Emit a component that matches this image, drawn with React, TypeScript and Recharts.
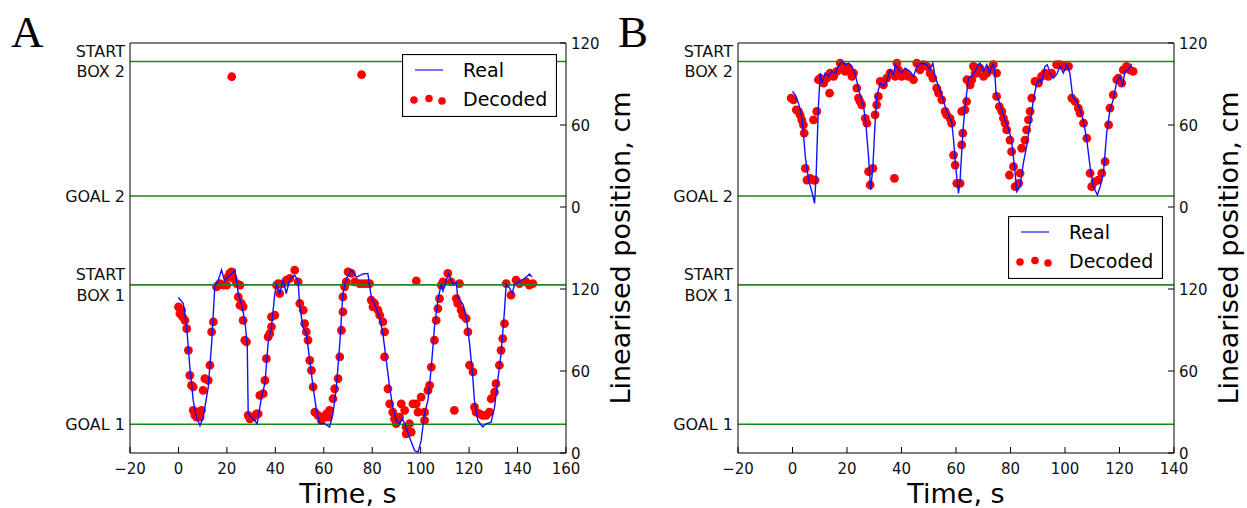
import React from "react";
import { ComposedChart, Line, Scatter, XAxis, YAxis, ReferenceLine, Legend } from "recharts";

const FONT = "'DejaVu Sans', sans-serif";

// y is one stacked scale: lower arm 0-120 cm, upper arm drawn 180 units higher
const landmarkPos = [21, 123, 188, 286.5];
const landmarkNames = [["GOAL 1"], ["START", "BOX 1"], ["GOAL 2"], ["START", "BOX 2"]];
const posTicks = [0, 60, 120, 180, 240, 300];
const posTickLabels = ["0", "60", "120", "0", "60", "120"];
const timeTicksA = [-20, 0, 20, 40, 60, 80, 100, 120, 140, 160];
const timeTicksB = [-20, 0, 20, 40, 60, 80, 100, 120, 140];

// panel A
const realATime = [0, 2, 3.4, 4.7, 6.1, 7.5, 8.9, 10.2, 12.3, 13.7, 15, 16.4, 17.8, 19, 20.5, 21.9, 23.3, 24, 24.7, 26, 27.4, 28.4, 28.8, 30.2, 31.5, 32.5, 34.3, 35.7, 37, 38.4, 39.8, 40.5, 41.8, 43.2, 44.5, 46, 48, 49.4, 50, 51.4, 52.8, 54.2, 55.6, 57, 58.3, 60.4, 62.4, 63.8, 65.2, 66.6, 67.9, 69.3, 71.4, 73.5, 76.2, 78.2, 79.6, 81, 83, 84.4, 85.8, 87.2, 88.5, 89.9, 91.3, 92.4, 93.4, 95.4, 97.5, 98.9, 100.2, 101.6, 103, 104.4, 105.7, 107.1, 108.5, 109.2, 110.5, 111.6, 113.3, 114.7, 115.3, 117.4, 118.8, 120.2, 121.5, 122.2, 123.6, 125.6, 127, 129.1, 130.5, 131.8, 133.2, 134.6, 135.3, 136.6, 137.8, 138.7, 140.8, 142.8, 144.9, 146];
const realAPos = [113.8, 109.4, 92, 63, 38.5, 26, 20, 26, 48, 80, 121.5, 126.5, 134, 126, 129, 131, 134, 126, 116.7, 109, 97, 80, 28.7, 26, 23.8, 21.4, 41, 50.7, 80, 92, 116.7, 123, 116.7, 126.5, 116.7, 127.5, 130, 126, 109, 92, 87.4, 67.8, 48, 31, 21.4, 21.4, 19, 28.7, 48, 80, 116.7, 127.5, 134, 128.7, 131, 131.4, 114, 109, 99.6, 87.4, 67.8, 48, 33.6, 23.8, 21.4, 25, 21.4, 11.6, 1.8, 0.5, 9, 28.7, 38.5, 63, 92, 111.8, 123.5, 118.6, 126, 131, 123.5, 124.7, 114, 109, 99.6, 80, 55.6, 38.5, 23.8, 19, 21.4, 22.6, 33.6, 53, 72.7, 104, 123.5, 121, 116.7, 123, 125.7, 127.5, 131, 128.7];
const decodedATime = [0, 1.3, 0.6, 1.7, 2.7, 3.4, 4.1, 4.7, 5.4, 6.1, 6.1, 6.8, 8.2, 9.5, 8.9, 7.5, 10.2, 10.9, 12.3, 13, 13.7, 14.4, 15.7, 16.4, 17.1, 18.5, 19.9, 21.2, 21.9, 20.5, 22.6, 24, 25.4, 24.7, 25.4, 26, 26.7, 26.7, 27.4, 28.1, 28.8, 29.5, 30.8, 32.2, 32.9, 33.6, 35, 35.7, 36.3, 37, 37.7, 38.4, 38.4, 39.8, 40.5, 41.2, 41.8, 43.2, 44.6, 46, 48, 49.4, 50.1, 51.5, 52.1, 52.8, 53.5, 54.2, 54.9, 55.6, 56.3, 57.6, 59, 59.7, 61.1, 61.8, 62.4, 63.8, 64.5, 65.9, 66.6, 67.3, 67.9, 67.9, 68.6, 69.3, 70, 71.4, 72.8, 74.8, 76.2, 77.6, 78.9, 79.6, 81, 80.3, 82.4, 83.1, 84.4, 85.1, 85.1, 86.5, 87.2, 88.5, 89.2, 89.9, 91.3, 92, 93.4, 94, 95.4, 94, 96.1, 96.8, 98.2, 98.9, 100.2, 101.6, 101.6, 103, 103.7, 104.4, 105.7, 106.4, 107.1, 107.8, 108.5, 109.2, 111.2, 112.6, 113.9, 98.2, 114.7, 116, 115.3, 116.7, 117.4, 118.8, 119.5, 120.2, 121.6, 122.2, 122.9, 124.3, 125.6, 127, 128.4, 129.1, 130.5, 131.1, 132.5, 133.2, 133.9, 134.6, 135.3, 137.3, 139.4, 140.8, 143.5, 144.9, 146.3, 22, 75.6];
const decodedAPos = [106.9, 104.5, 102, 99.6, 97.1, 91, 75.1, 56.8, 49.5, 48.3, 31.2, 27.5, 29.9, 31.2, 26.3, 26.3, 45.8, 54.4, 53.2, 64.2, 88.6, 95.9, 121.6, 122.8, 124, 122.8, 122.8, 131.4, 132.6, 128.9, 127.7, 124, 122.8, 114.2, 108.1, 109.4, 106.9, 97.1, 82.5, 81.3, 27.5, 25, 26.3, 28.7, 28.7, 42.2, 43.4, 53.2, 69, 84.9, 87.3, 92.3, 99.6, 100.8, 122.8, 124, 116.7, 124, 126.5, 127.7, 133.8, 125.2, 109.4, 104.5, 94.7, 88.6, 82.5, 67.8, 60.5, 48.3, 29.9, 27.5, 23.8, 26.3, 28.7, 26.3, 31.2, 39.7, 47, 54.4, 70.3, 89.8, 103.3, 114.2, 121.6, 125.2, 132.6, 131.4, 125.2, 124, 124, 124, 124, 111.8, 109.4, 106.9, 104.5, 100.8, 95.9, 88.6, 70.3, 47, 36, 29.9, 25, 21.4, 26.3, 36, 31.2, 18.9, 21.4, 14, 15.3, 36, 36, 29.9, 40.9, 29.9, 23.8, 45.8, 49.5, 62.9, 82.5, 97.1, 105.7, 113, 122.8, 125.2, 131.4, 125.2, 31.2, 126, 113, 124, 109.4, 104.5, 100.8, 98.4, 88.6, 64.2, 59.3, 33.6, 29.9, 28.7, 27.5, 27.5, 29.9, 39.7, 44.6, 50.7, 64.2, 75.1, 83.7, 94.7, 124, 115.5, 126.5, 124, 125.2, 122.8, 124, 275.3, 276.8];

// panel B
const realBTime = [0, 1, 2.2, 3.4, 4, 4.7, 5.9, 7.1, 8.1, 8.7, 9.5, 10.2, 10.8, 12, 13.2, 14.4, 15.7, 16.9, 18.1, 19.3, 20.6, 21.8, 23, 23.8, 24.8, 26.1, 27, 27.9, 28.7, 29.5, 30.3, 30.9, 32.2, 33.4, 34.6, 35.8, 37.1, 37.7, 39, 40.1, 41.3, 43.2, 44.4, 45.6, 47.4, 49.3, 50.5, 51.5, 52.3, 53.6, 54.8, 56, 57.2, 58.4, 59.1, 59.9, 60.9, 61.5, 62.5, 63.3, 64.6, 65.8, 67, 68.2, 68.8, 70.1, 71.3, 72.3, 73.5, 74.1, 74.7, 75.6, 76.8, 78, 79.2, 80.4, 81.7, 82.3, 83.5, 84.7, 85.9, 87.2, 88.4, 89.6, 90.8, 91.4, 92.6, 93.5, 94.5, 95.7, 96.9, 98.2, 99.4, 100.6, 101.8, 102.8, 104.3, 105.5, 106.7, 108, 109.2, 110.4, 111.9, 112.9, 114.1, 115.3, 116.5, 117.7, 119, 120.2, 121.1, 122, 123.2, 124.5];
const realBPos = [264.5, 262, 256, 246.2, 234, 216.8, 199.7, 191.2, 182.6, 204.7, 253.5, 278, 270.6, 278, 275.6, 279.2, 278, 282.9, 286.5, 284.1, 285.3, 282.9, 276.8, 270.6, 262, 253.5, 238.9, 216.8, 192.4, 209.5, 241.3, 260.9, 270.6, 268.2, 271.9, 280.4, 276.8, 284.1, 280.4, 278, 281.6, 279.2, 275.6, 282.9, 285.3, 284.1, 280.4, 285.3, 275.6, 268.2, 262, 253.5, 247.4, 242.5, 229, 209.5, 190, 199.7, 234, 253.5, 274.3, 275.6, 279.2, 284.1, 285.3, 279.2, 284.1, 278, 284.1, 282.9, 263.3, 258.4, 251.1, 243.7, 237.6, 229, 204.7, 191.2, 194.9, 212, 224.2, 241.3, 258.4, 270.6, 273.1, 270.6, 282.9, 284.1, 278, 274.3, 276.8, 282.9, 278, 284.1, 278, 260.9, 257.2, 251.1, 243.7, 229, 209.5, 194.9, 188.8, 194.9, 204.7, 234, 251.1, 258.4, 271.9, 275.6, 268.2, 279.2, 280.4, 284.8];
const decodedBTime = [-0.5, 0.4, 1.4, 2.2, 2.8, 3.4, 4, 4.3, 4.7, 5.3, 6.5, 7.7, 8.3, 7.7, 8.9, 9.5, 10.2, 11.4, 13.6, 12.6, 13.8, 15.1, 16.3, 17.5, 18.7, 19.3, 20.6, 21.8, 22.4, 23.6, 24.2, 24.8, 25.4, 26.7, 27.3, 27.9, 28.5, 29.5, 30.3, 30.9, 31.5, 32.2, 33.4, 34.6, 35.8, 37.4, 38.3, 37.7, 38.9, 40.1, 41.3, 42.5, 44.4, 45.6, 46.8, 48, 49.3, 50.5, 51.5, 52.9, 53.6, 54.8, 56, 56.6, 57.8, 58.4, 59.1, 59.7, 60.3, 62.1, 62.5, 62.1, 63.3, 63.9, 65.2, 65.8, 67, 68.2, 61.5, 64, 66.4, 67.6, 68.8, 70.1, 71.3, 72.5, 73.7, 74.9, 74.9, 75.9, 76.8, 77.4, 78, 78.6, 79.8, 80.4, 81.1, 79.6, 81.7, 83, 83.5, 84.1, 85.3, 85.9, 86.6, 87.2, 87.8, 89, 90.2, 91.4, 92.6, 93.9, 95.1, 96.9, 98.2, 100, 101.3, 102.5, 103.7, 104.9, 105.5, 106.8, 108, 109.2, 109.8, 111, 112.2, 113.5, 114.7, 116, 116.5, 117.7, 119, 119.6, 120.8, 121.4, 122.6, 123.8, 125];
const decodedBPos = [259.7, 258.4, 251.1, 249.9, 247.4, 243.7, 240.1, 234, 208.3, 199.7, 200.9, 199.7, 199.7, 243.7, 249.9, 273.1, 274.3, 270.6, 263.3, 274.3, 278, 275.6, 279.2, 285.3, 282.9, 279.2, 281.6, 275.6, 278, 267, 259.7, 257.2, 254.8, 244.9, 241.3, 205.9, 196.1, 208.3, 247.4, 254.8, 260.9, 271.9, 269.4, 274.3, 278, 201, 285.3, 275.6, 280.4, 275.6, 278, 275.6, 273.1, 285.3, 280.4, 284.1, 282.9, 278, 274.3, 267, 263.3, 258.4, 249.9, 247.4, 244.9, 241.3, 218, 210.7, 197.3, 225.4, 234, 249.9, 251.1, 257.2, 269.4, 273.1, 278, 281.6, 197.3, 273.1, 282.9, 278, 281.6, 275.6, 278, 280.4, 284.1, 278, 260.9, 253.5, 249.9, 245, 241.3, 236.4, 229, 220.5, 209.5, 203.4, 194.9, 197.3, 204.7, 223, 229, 236.4, 243.7, 249.9, 259.7, 271.9, 270.6, 275.6, 278, 275.6, 278, 284.1, 284.1, 282.9, 282.9, 259.7, 257.2, 252.3, 248.7, 241.3, 230.3, 204.7, 194.9, 198.6, 199.7, 204.7, 213.2, 240.1, 252.3, 262, 273.1, 274.3, 270.6, 280.4, 282.9, 280.4, 279.2];

const pairs = (t: number[], c: number[]) => t.map((v, i) => ({ t: v, c: c[i] }));
const fmt = (v: number) => (v < 0 ? "\u2212" + Math.abs(v) : String(v));

const BottomTick = (p: any) => (
  <g>
    <line x1={p.x} x2={p.x} y1={p.y} y2={p.y - 6} stroke="#000" />
    <text x={p.x} y={p.y + 21} textAnchor="middle" fontSize={15} fill="#111" fontFamily={FONT}>
      {fmt(p.payload.value)}
    </text>
  </g>
);

const TopTick = (p: any) => <line x1={p.x} x2={p.x} y1={p.y} y2={p.y + 6} stroke="#000" />;

const RightTick = (p: any) => (
  <g>
    <line x1={p.x} x2={p.x - 6} y1={p.y} y2={p.y} stroke="#000" />
    <text x={p.x + 5} y={p.y + 5.5} fontSize={15} fill="#111" fontFamily={FONT}>
      {posTickLabels[posTicks.indexOf(p.payload.value)]}
    </text>
  </g>
);

const LeftTick = (p: any) => {
  const lines = landmarkNames[landmarkPos.indexOf(p.payload.value)] || [];
  const first = lines.length === 1 ? p.y + 6 : p.y - 4.7;
  return (
    <text textAnchor="end" fontSize={16} fill="#111" fontFamily={FONT}>
      {lines.map((s, i) => (
        <tspan key={i} x={p.x - 5} y={first + i * 20.7}>
          {s}
        </tspan>
      ))}
    </text>
  );
};

const Dot = (p: any) => <circle cx={p.cx} cy={p.cy} r={4.4} fill="#ff0000" />;

const LegendBox = () => (
  <svg width={155} height={63} style={{ display: "block" }}>
    <rect x={0.5} y={0.5} width={154} height={62} fill="#fff" stroke="#000" strokeWidth={1.2} />
    <line x1={13} x2={41} y1={16} y2={16} stroke="#3a3aff" strokeWidth={1.4} />
    <text x={61} y={23} fontSize={19} fontFamily={FONT} fill="#000">Real</text>
    <circle cx={12} cy={46} r={3.8} fill="#ff0000" />
    <circle cx={27} cy={44.5} r={3.8} fill="#ff0000" />
    <circle cx={40} cy={47} r={3.8} fill="#ff0000" />
    <text x={61} y={52} fontSize={19} fontFamily={FONT} fill="#000">Decoded</text>
  </svg>
);

type PanelProps = {
  left: number;
  letter: string;
  timeMax: number;
  timeTicks: number[];
  real: { t: number; c: number }[];
  decoded: { t: number; c: number }[];
  legendLeft: number;
  legendTop: number;
};

function Panel({ left, letter, timeMax, timeTicks, real, decoded, legendLeft, legendTop }: PanelProps) {
  return (
    <div style={{ position: "absolute", left, top: 0, width: 639, height: 508 }}>
      <ComposedChart width={639} height={508} margin={{ top: 33, right: 33, bottom: 25, left: 70 }}>
        <XAxis
          dataKey="t"
          type="number"
          domain={[-20, timeMax]}
          ticks={timeTicks}
          interval={0}
          allowDataOverflow
          height={30}
          tickSize={0}
          tickMargin={0}
          tickLine={false}
          tick={BottomTick}
          axisLine={{ stroke: "#000" }}
          label={{
            value: "Time, s",
            content: (p: any) => (
              <text x={p.viewBox.x + p.viewBox.width / 2} y={p.viewBox.y + 50} textAnchor="middle" fontSize={27} fill="#000" fontFamily={FONT}>
                Time, s
              </text>
            ),
          }}
        />
        <XAxis
          xAxisId="top"
          orientation="top"
          type="number"
          domain={[-20, timeMax]}
          ticks={timeTicks}
          interval={0}
          allowDataOverflow
          height={10}
          tickSize={0}
          tickMargin={0}
          tickLine={false}
          tick={TopTick}
          axisLine={{ stroke: "#000" }}
        />
        <YAxis
          dataKey="c"
          type="number"
          domain={[0, 300]}
          ticks={landmarkPos}
          interval={0}
          allowDataOverflow
          width={60}
          tickSize={0}
          tickMargin={0}
          tickLine={false}
          tick={LeftTick}
          axisLine={{ stroke: "#000" }}
        />
        <YAxis
          yAxisId="right"
          orientation="right"
          type="number"
          domain={[0, 300]}
          ticks={posTicks}
          interval={0}
          allowDataOverflow
          width={40}
          tickSize={0}
          tickMargin={0}
          tickLine={false}
          tick={RightTick}
          axisLine={{ stroke: "#000" }}
          label={{
            value: "Linearised position, cm",
            content: (p: any) => {
              const x = p.viewBox.x + 64;
              const y = p.viewBox.y + p.viewBox.height / 2;
              return (
                <text x={x} y={y} transform={`rotate(-90, ${x}, ${y})`} textAnchor="middle" fontSize={27} fill="#000" fontFamily={FONT}>
                  Linearised position, cm
                </text>
              );
            },
          }}
        />
        <Scatter data={decoded} dataKey="c" shape={Dot} isAnimationActive={false} zIndex={400} />
        {landmarkPos.map((v) => (
          <ReferenceLine key={v} y={v} stroke="#1a8a1a" strokeWidth={1.6} zIndex={450} />
        ))}
        <Line data={real} dataKey="c" type="linear" dot={false} stroke="#1010ff" strokeWidth={1.4} isAnimationActive={false} zIndex={500} />
        <Legend
          content={LegendBox}
          layout="vertical"
          align="center"
          verticalAlign="middle"
          wrapperStyle={{ left: legendLeft, top: legendTop, width: 155, height: 63 }}
        />
      </ComposedChart>
      <div
        style={{
          position: "absolute",
          left: left === 0 ? 11 : 10,
          top: 10,
          fontFamily: "'Liberation Serif', serif",
          fontSize: 45,
          lineHeight: 1,
          color: "#000",
        }}
      >
        {letter}
      </div>
    </div>
  );
}

export default function App() {
  return (
    <div style={{ position: "absolute", left: 0, top: 0, width: 1247, height: 508, overflow: "hidden", background: "#fff" }}>
      <Panel
        left={0}
        letter="A"
        timeMax={160}
        timeTicks={timeTicksA}
        real={pairs(realATime, realAPos)}
        decoded={pairs(decodedATime, decodedAPos)}
        legendLeft={402}
        legendTop={54}
      />
      <Panel
        left={608}
        letter="B"
        timeMax={140}
        timeTicks={timeTicksB}
        real={pairs(realBTime, realBPos)}
        decoded={pairs(decodedBTime, decodedBPos)}
        legendLeft={400}
        legendTop={216}
      />
    </div>
  );
}
